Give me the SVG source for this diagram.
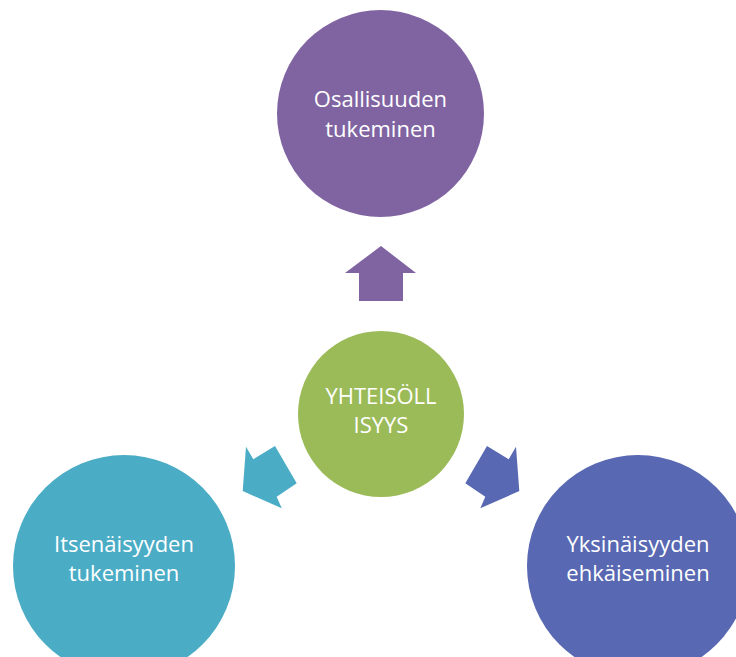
<svg xmlns="http://www.w3.org/2000/svg" width="736" height="657" viewBox="0 0 736 657">
<style>
.t{font-family:"Open Sans","Noto Sans",sans-serif;font-size:22px;fill:#ffffff;text-anchor:middle}
</style>
<rect width="736" height="657" fill="#ffffff"/>
<g id="connectors">
<polygon id="arrow-up" fill="#8064A2" points="381,246 416,273 403,273 403,301 359,301 359,273 345,273"/>
<polygon id="arrow-left" fill="#4BACC6" points="242.7,491 281.7,508.3 276.7,496.7 296.7,483.3 275,446 253.3,459.3 246,446.7"/>
<polygon id="arrow-right" fill="#5868B2" points="519.3,491 480.3,508.3 485.3,496.7 465.3,483.3 487,446 508.7,459.3 516,446.7"/>
</g>
<g id="node-top">
<circle cx="380.5" cy="113.5" r="103.5" fill="#8064A2"/>
<text class="t" x="380.5" y="107">Osallisuuden</text>
<text class="t" x="380.5" y="137">tukeminen</text>
</g>
<g id="node-center">
<circle cx="381" cy="414" r="83" fill="#9BBB59"/>
<text class="t" x="381" y="404">YHTEISÖLL</text>
<text class="t" x="381" y="433">ISYYS</text>
</g>
<g id="node-left">
<circle cx="124" cy="566" r="111" fill="#4BACC6"/>
<text class="t" x="124" y="552">Itsenäisyyden</text>
<text class="t" x="124" y="581">tukeminen</text>
</g>
<g id="node-right">
<circle cx="638" cy="566" r="111" fill="#5868B2"/>
<text class="t" x="638" y="552">Yksinäisyyden</text>
<text class="t" x="638" y="581">ehkäiseminen</text>
</g>
</svg>
